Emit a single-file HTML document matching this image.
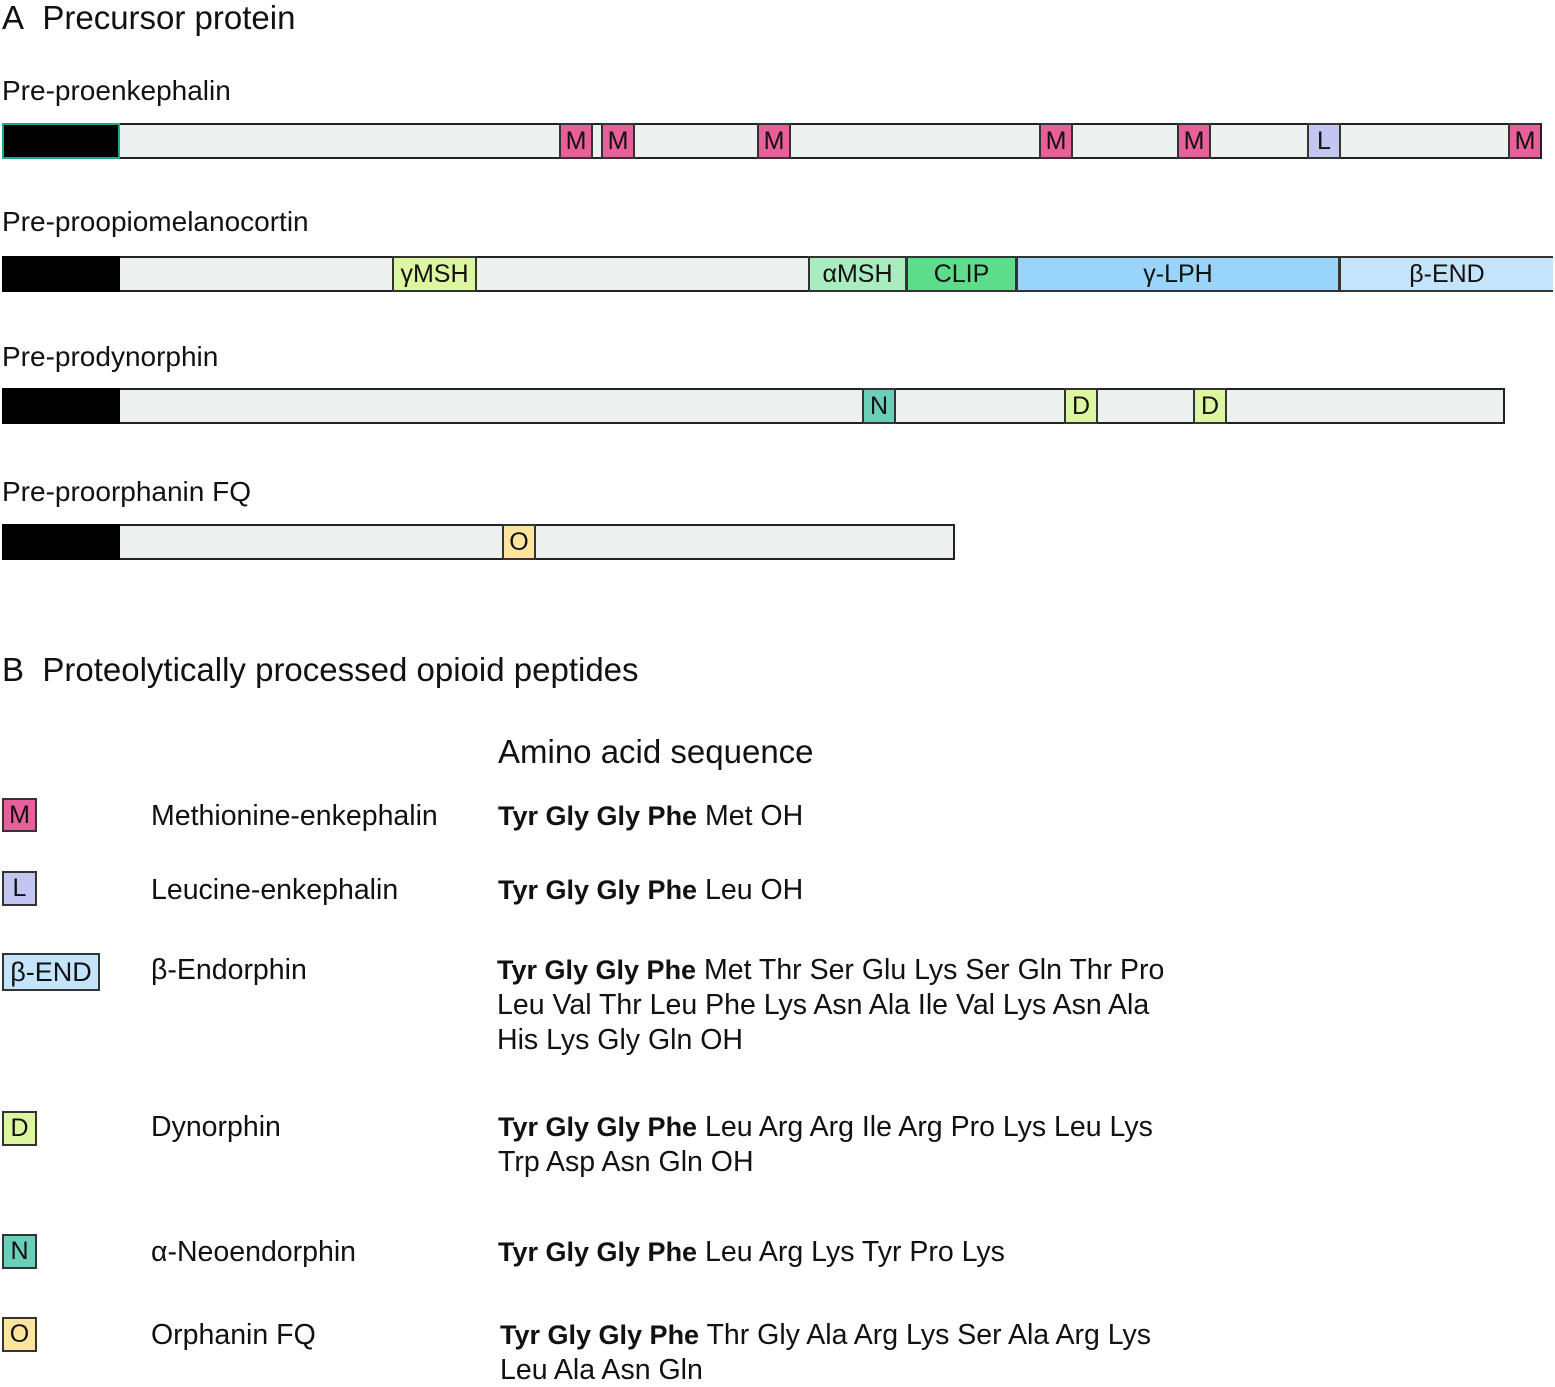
<!DOCTYPE html>
<html><head><meta charset="utf-8"><style>
body{margin:0;width:1555px;height:1387px;background:#fff;position:relative;overflow:hidden;font-family:"Liberation Sans",sans-serif;color:#111}
.t{position:absolute;white-space:nowrap;line-height:34px}
.bar{position:absolute;height:32px;border:2px solid #222;background:#ecf1f0;box-sizing:content-box}
.b{position:absolute;top:-2px;height:32px;border:2px solid #333;box-sizing:content-box;font-size:25px;line-height:32px;text-align:center;overflow:hidden}
.blk{position:absolute;left:-2px;top:-2px;width:118px;height:36px;background:#000}
.lg{position:absolute;border:2px solid #333;box-sizing:border-box;font-size:25px;text-align:center;line-height:30px}
.s{font-size:28.5px}
.s b{font-weight:bold;font-size:27px}
.n{font-size:28.5px}
.M{background:#e8609a}.L{background:#c4c6f2}
</style></head><body>
<div class="t" style="left:2px;top:1px;font-size:33px">A&nbsp; Precursor protein</div>
<div class="t" style="left:2px;top:74px;font-size:28px">Pre-proenkephalin</div>
<div class="bar" style="left:2px;top:123px;width:1536px">
 <div class="blk" style="border:2px solid #1aa890;box-sizing:border-box"></div>
 <div class="b M" style="left:555px;width:30px">M</div>
 <div class="b M" style="left:597px;width:30px">M</div>
 <div class="b M" style="left:753px;width:30px">M</div>
 <div class="b M" style="left:1035px;width:30px">M</div>
 <div class="b M" style="left:1173px;width:30px">M</div>
 <div class="b L" style="left:1303px;width:30px">L</div>
 <div class="b M" style="left:1504px;width:30px;border-right:none">M</div>
</div>
<div class="t" style="left:2px;top:205px;font-size:28px">Pre-proopiomelanocortin</div>
<div class="bar" style="left:2px;top:256px;width:1547px">
 <div class="blk"></div>
 <div class="b" style="left:388px;width:81px;background:#ddf7a0">γMSH</div>
 <div class="b" style="left:804px;width:95px;background:#a8ecc0">αMSH</div>
 <div class="b" style="left:902px;width:107px;background:#5ddc8c">CLIP</div>
 <div class="b" style="left:1012px;width:320px;background:#99d4fb">γ-LPH</div>
 <div class="b" style="left:1335px;width:212px;background:#c4e4fb;border-right:none">β-END</div>
</div>
<div class="t" style="left:2px;top:340px;font-size:28px">Pre-prodynorphin</div>
<div class="bar" style="left:2px;top:388px;width:1499px">
 <div class="blk"></div>
 <div class="b" style="left:858px;width:30px;background:#6ccdb8">N</div>
 <div class="b" style="left:1060px;width:30px;background:#ddf7a0">D</div>
 <div class="b" style="left:1189px;width:30px;background:#ddf7a0">D</div>
</div>
<div class="t" style="left:2px;top:475px;font-size:28px">Pre-proorphanin FQ</div>
<div class="bar" style="left:2px;top:524px;width:949px">
 <div class="blk"></div>
 <div class="b" style="left:498px;width:30px;background:#fde5a0">O</div>
</div>

<div class="t" style="left:2px;top:653px;font-size:33px">B&nbsp; Proteolytically processed opioid peptides</div>
<div class="t" style="left:498px;top:735px;font-size:33px">Amino acid sequence</div>

<div class="lg M" style="left:2px;top:798px;width:35px;height:34px">M</div>
<div class="t n" style="left:151px;top:799px">Methionine-enkephalin</div>
<div class="t s" style="left:498px;top:799px"><b>Tyr Gly Gly Phe</b> Met OH</div>

<div class="lg L" style="left:2px;top:871px;width:35px;height:35px">L</div>
<div class="t n" style="left:151px;top:873px">Leucine-enkephalin</div>
<div class="t s" style="left:498px;top:873px"><b>Tyr Gly Gly Phe</b> Leu OH</div>

<div class="lg" style="left:2px;top:953px;width:98px;height:38px;background:#c4e4fb;line-height:34px;font-size:27px">β-END</div>
<div class="t n" style="left:151px;top:953px">β-Endorphin</div>
<div class="t s" style="left:497px;top:953px"><b>Tyr Gly Gly Phe</b> Met Thr Ser Glu Lys Ser Gln Thr Pro</div>
<div class="t s" style="left:497px;top:988px">Leu Val Thr Leu Phe Lys Asn Ala Ile Val Lys Asn Ala</div>
<div class="t s" style="left:497px;top:1023px">His Lys Gly Gln OH</div>

<div class="lg" style="left:2px;top:1111px;width:35px;height:35px;background:#ddf7a0">D</div>
<div class="t n" style="left:151px;top:1110px">Dynorphin</div>
<div class="t s" style="left:498px;top:1110px"><b>Tyr Gly Gly Phe</b> Leu Arg Arg Ile Arg Pro Lys Leu Lys</div>
<div class="t s" style="left:498px;top:1145px">Trp Asp Asn Gln OH</div>

<div class="lg" style="left:2px;top:1234px;width:35px;height:35px;background:#6ccdb8">N</div>
<div class="t n" style="left:151px;top:1235px">α-Neoendorphin</div>
<div class="t s" style="left:498px;top:1235px"><b>Tyr Gly Gly Phe</b> Leu Arg Lys Tyr Pro Lys</div>

<div class="lg" style="left:2px;top:1317px;width:35px;height:35px;background:#fde5a0">O</div>
<div class="t n" style="left:151px;top:1318px">Orphanin FQ</div>
<div class="t s" style="left:500px;top:1318px"><b>Tyr Gly Gly Phe</b> Thr Gly Ala Arg Lys Ser Ala Arg Lys</div>
<div class="t s" style="left:500px;top:1353px">Leu Ala Asn Gln</div>
</body></html>
